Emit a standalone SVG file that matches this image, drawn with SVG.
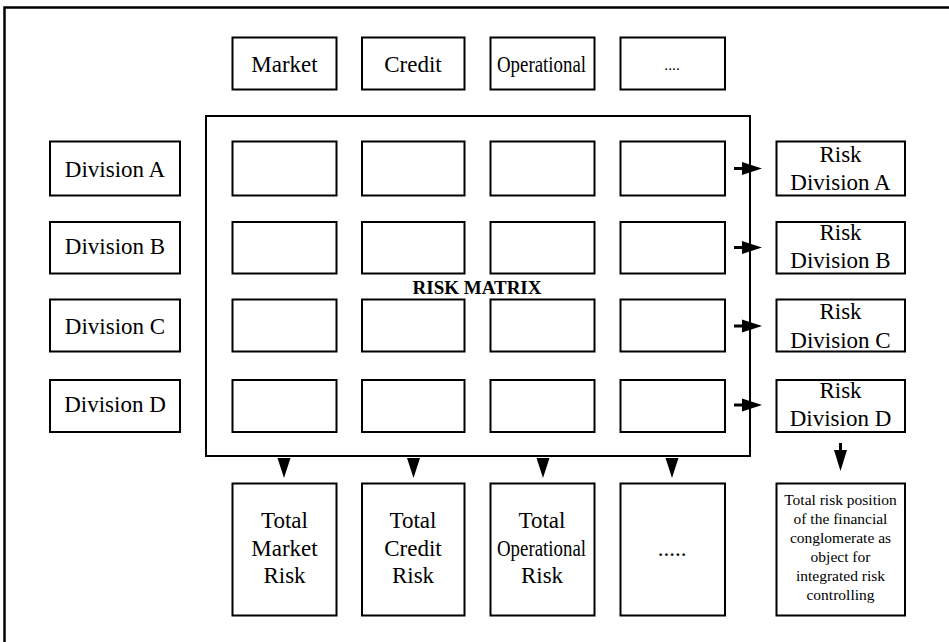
<svg xmlns="http://www.w3.org/2000/svg" width="949" height="642" viewBox="0 0 949 642">
  <style>
    .box { fill: #fff; stroke: #000; stroke-width: 2; }
    .frame { fill: none; stroke: #000; stroke-width: 2.5; }
    .t { font-family: "Liberation Serif", "Times New Roman", serif; font-size: 23px; fill: #000; text-anchor: middle; }
    .s { font-family: "Liberation Serif", "Times New Roman", serif; font-size: 15.5px; fill: #000; text-anchor: middle; }
    .b { font-family: "Liberation Serif", "Times New Roman", serif; font-size: 19px; font-weight: bold; fill: #000; text-anchor: middle; }
    .shaft { stroke: #000; stroke-width: 3; fill: none; }
    .head { fill: #000; }
  </style>
  <rect width="949" height="642" fill="#fff"/>
  <!-- page frame (only left and top edges fall inside the view) -->
  <rect class="frame" x="4.5" y="7.5" width="1000" height="700"/>

  <!-- risk matrix container -->
  <g id="matrix">
    <rect class="box" x="206" y="116" width="544" height="340"/>
    <text class="b" x="477" y="294">RISK MATRIX</text>
  </g>

  <!-- risk categories -->
  <g id="cat-market"><rect class="box" x="232.5" y="37.5" width="104" height="52"/><text class="t" x="284.5" y="72">Market</text></g>
  <g id="cat-credit"><rect class="box" x="362" y="37.5" width="102.5" height="52"/><text class="t" x="413" y="72">Credit</text></g>
  <g id="cat-operational"><rect class="box" x="490.5" y="37.5" width="104" height="52"/><text class="t" x="541.5" y="72" textLength="89" lengthAdjust="spacingAndGlyphs">Operational</text></g>
  <g id="cat-more"><rect class="box" x="620.5" y="37.5" width="104.5" height="52"/><text class="s" x="672" y="70" font-size="13">....</text></g>

  <!-- divisions -->
  <g id="div-a"><rect class="box" x="50" y="141.5" width="130" height="54"/><text class="t" x="115" y="177">Division A</text></g>
  <g id="div-b"><rect class="box" x="50" y="222" width="130" height="51.5"/><text class="t" x="115" y="254">Division B</text></g>
  <g id="div-c"><rect class="box" x="50" y="299.5" width="130" height="52"/><text class="t" x="115" y="334">Division C</text></g>
  <g id="div-d"><rect class="box" x="50" y="380" width="130" height="52"/><text class="t" x="115" y="412">Division D</text></g>

  <!-- matrix cells -->
  <g id="cells">
    <rect class="box" x="232.5" y="141.5" width="104" height="54"/>
    <rect class="box" x="362" y="141.5" width="102.5" height="54"/>
    <rect class="box" x="490.5" y="141.5" width="104" height="54"/>
    <rect class="box" x="620.5" y="141.5" width="104.5" height="54"/>
    <rect class="box" x="232.5" y="222" width="104" height="51.5"/>
    <rect class="box" x="362" y="222" width="102.5" height="51.5"/>
    <rect class="box" x="490.5" y="222" width="104" height="51.5"/>
    <rect class="box" x="620.5" y="222" width="104.5" height="51.5"/>
    <rect class="box" x="232.5" y="299.5" width="104" height="52"/>
    <rect class="box" x="362" y="299.5" width="102.5" height="52"/>
    <rect class="box" x="490.5" y="299.5" width="104" height="52"/>
    <rect class="box" x="620.5" y="299.5" width="104.5" height="52"/>
    <rect class="box" x="232.5" y="380" width="104" height="52"/>
    <rect class="box" x="362" y="380" width="102.5" height="52"/>
    <rect class="box" x="490.5" y="380" width="104" height="52"/>
    <rect class="box" x="620.5" y="380" width="104.5" height="52"/>
  </g>

  <!-- division risk results -->
  <g id="risk-a"><rect class="box" x="776.5" y="141.5" width="128.5" height="54"/><text class="t" x="840.5" y="162">Risk</text><text class="t" x="840.5" y="190">Division A</text></g>
  <g id="risk-b"><rect class="box" x="776.5" y="222" width="128.5" height="51.5"/><text class="t" x="840.5" y="240">Risk</text><text class="t" x="840.5" y="268">Division B</text></g>
  <g id="risk-c"><rect class="box" x="776.5" y="299.5" width="128.5" height="52"/><text class="t" x="840.5" y="319">Risk</text><text class="t" x="840.5" y="347.5">Division C</text></g>
  <g id="risk-d"><rect class="box" x="776.5" y="380" width="128.5" height="52"/><text class="t" x="840.5" y="398">Risk</text><text class="t" x="840.5" y="425.5">Division D</text></g>

  <!-- category totals -->
  <g id="total-market"><rect class="box" x="232.5" y="483.5" width="104" height="132"/><text class="t" x="284.5" y="528">Total</text><text class="t" x="284.5" y="555.5">Market</text><text class="t" x="284.5" y="583">Risk</text></g>
  <g id="total-credit"><rect class="box" x="362" y="483.5" width="102.5" height="132"/><text class="t" x="413" y="528">Total</text><text class="t" x="413" y="555.5">Credit</text><text class="t" x="413" y="583">Risk</text></g>
  <g id="total-operational"><rect class="box" x="490.5" y="483.5" width="104" height="132"/><text class="t" x="542" y="528">Total</text><text class="t" x="541.5" y="556" textLength="89" lengthAdjust="spacingAndGlyphs">Operational</text><text class="t" x="542" y="583">Risk</text></g>
  <g id="total-more"><rect class="box" x="620.5" y="483.5" width="104.5" height="132"/><text class="t" x="672" y="556">.....</text></g>

  <!-- overall result -->
  <g id="total-position">
    <rect class="box" x="776.5" y="483.5" width="128.5" height="132"/>
    <text class="s" x="840.5" y="505">Total risk position</text>
    <text class="s" x="840.5" y="524">of the financial</text>
    <text class="s" x="840.5" y="542.5">conglomerate as</text>
    <text class="s" x="840.5" y="561.5">object for</text>
    <text class="s" x="840.5" y="581">integrated risk</text>
    <text class="s" x="840.5" y="600">controlling</text>
  </g>

  <!-- connectors -->
  <g id="connectors">
    <path class="shaft" d="M734 168.5H744M734 247.5H744M734 326H744M734 405H744"/>
    <path class="head" d="M742 162l20 6.5l-20 6.5zM742 241l20 6.5l-20 6.5zM742 319.5l20 6.5l-20 6.5zM742 398.5l20 6.5l-20 6.5z"/>
    <path class="head" d="M277.5 458h13l-6.5 20zM407 458h13l-6.5 20zM536.5 458h13l-6.5 20zM665.5 458h13l-6.5 20z"/>
    <path class="shaft" d="M840.5 443V452"/>
    <path class="head" d="M834 450h13l-6.5 21z"/>
  </g>
</svg>
